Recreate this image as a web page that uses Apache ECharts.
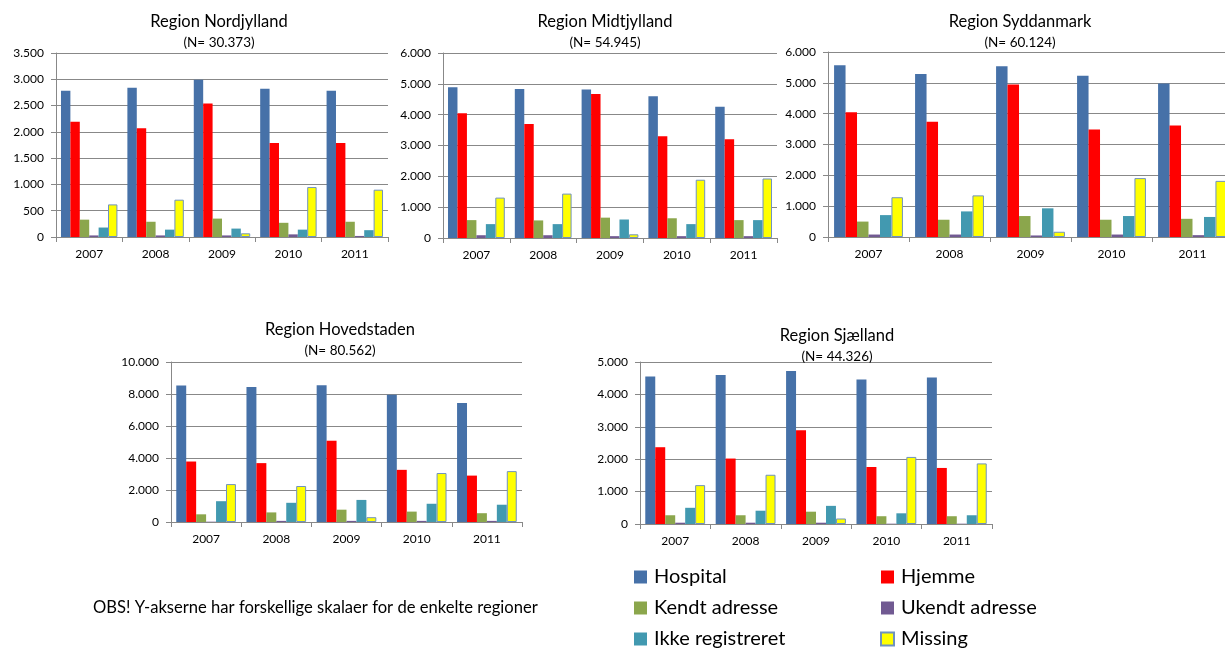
<!DOCTYPE html>
<html>
<head>
<meta charset="utf-8">
<script src="https://cdn.jsdelivr.net/npm/echarts@6/dist/echarts.min.js"></script>
<style>
html,body{margin:0;padding:0;background:#fff;overflow:hidden;}
#c{width:1240px;height:648px;}
</style>
</head>
<body>
<div id="c"></div>
<script>
const years = ['2007', '2008', '2009', '2010', '2011'];
const seriesNames = ['Hospital', 'Hjemme', 'Kendt adresse', 'Ukendt adresse', 'Ikke registreret', 'Missing'];
const seriesColors = ['#4671A8', '#FF0000', '#8BA64C', '#715A92', '#4299B0', '#FFFF00'];

const regionTitles = ['Region Nordjylland', 'Region Midtjylland', 'Region Syddanmark', 'Region Hovedstaden', 'Region Sjælland'];
const regionN = ['(N= 30.373)', '(N= 54.945)', '(N= 60.124)', '(N= 80.562)', '(N= 44.326)'];
const axisMax = [3500, 6000, 6000, 10000, 5000];
const axisInterval = [500, 1000, 1000, 2000, 1000];

// values per series (order = seriesNames), per year
const nordjylland = [
  [2780, 2840, 2990, 2820, 2780],
  [2190, 2070, 2540, 1790, 1790],
  [330, 290, 350, 270, 290],
  [30, 30, 30, 50, 20],
  [180, 140, 160, 140, 130],
  [620, 710, 70, 950, 900]
];
const midtjylland = [
  [4890, 4830, 4820, 4600, 4260],
  [4050, 3700, 4670, 3300, 3200],
  [580, 570, 660, 640, 580],
  [90, 90, 60, 60, 60],
  [450, 450, 600, 450, 580],
  [1310, 1440, 120, 1890, 1930]
];
const syddanmark = [
  [5570, 5290, 5540, 5230, 4980],
  [4050, 3740, 4950, 3490, 3620],
  [500, 560, 680, 560, 590],
  [80, 80, 50, 80, 60],
  [710, 830, 930, 680, 650],
  [1290, 1350, 170, 1910, 1820]
];
const hovedstaden = [
  [8530, 8430, 8540, 7960, 7430],
  [3780, 3680, 5080, 3260, 2900],
  [480, 600, 770, 650, 550],
  [20, 70, 70, 70, 70],
  [1300, 1200, 1380, 1140, 1080],
  [2370, 2250, 300, 3060, 3180]
];
const sjaelland = [
  [4550, 4600, 4720, 4460, 4520],
  [2370, 2020, 2890, 1760, 1730],
  [270, 270, 380, 240, 240],
  [40, 40, 40, 10, 10],
  [500, 410, 560, 330, 270],
  [1200, 1520, 170, 2070, 1870]
];
const regionData = [nordjylland, midtjylland, syddanmark, hovedstaden, sjaelland];
const noteText = 'OBS! Y-akserne har forskellige skalaer for de enkelte regioner';

// layout
const grids = [
  {left: 56, top: 53, width: 332, height: 184},
  {left: 443, top: 53, width: 334, height: 185},
  {left: 828, top: 52, width: 405, height: 185},
  {left: 171, top: 362, width: 351, height: 160},
  {left: 640, top: 362, width: 352, height: 162}
];
const titlePos = [
  {cx: 219, top: 13},
  {cx: 605, top: 13},
  {cx: 1020, top: 13},
  {cx: 340, top: 321},
  {cx: 837, top: 327}
];

const FONT = 'Lato, "Open Sans", sans-serif';
const fmt = v => String(v).replace(/\B(?=(\d{3})+(?!\d))/g, '.');
const lineGrey = '#888888';

const legendCommon = {
  orient: 'vertical',
  top: 567,
  height: 90,
  padding: 0,
  itemWidth: 13, itemHeight: 13, itemGap: 11,
  icon: 'rect',
  textStyle: {fontFamily: FONT, fontSize: 20, lineHeight: 18, color: '#000', padding: [0, 0, 0, 2]}
};

const option = {
  animation: false,
  backgroundColor: '#ffffff',
  textStyle: {fontFamily: FONT, color: '#000'},
  title: regionTitles.map((t, i) => ({
    text: t,
    subtext: regionN[i],
    left: titlePos[i].cx,
    top: titlePos[i].top,
    textAlign: 'center',
    padding: 0,
    itemGap: 6,
    textStyle: {fontFamily: FONT, fontSize: 16.5, fontWeight: 'normal', color: '#000'},
    subtextStyle: {fontFamily: FONT, fontSize: 13.5, color: '#000'}
  })),
  grid: grids.map(g => Object.assign({containLabel: false}, g)),
  xAxis: grids.map((g, i) => ({
    type: 'category',
    gridIndex: i,
    data: years,
    axisLine: {lineStyle: {color: lineGrey, width: 1}},
    axisTick: {show: true, length: 5, lineStyle: {color: lineGrey}},
    axisLabel: {fontFamily: FONT, fontSize: 12, color: '#000', margin: 11}
  })),
  yAxis: grids.map((g, i) => ({
    type: 'value',
    gridIndex: i,
    min: 0,
    max: axisMax[i],
    interval: axisInterval[i],
    axisLine: {show: true, lineStyle: {color: lineGrey, width: 1}},
    axisTick: {show: true, length: 5, lineStyle: {color: lineGrey}},
    splitLine: {show: true, lineStyle: {color: lineGrey, width: 1}},
    axisLabel: {fontFamily: FONT, fontSize: 12, color: '#000', margin: 12, formatter: fmt}
  })),
  legend: [
    Object.assign({}, legendCommon, {
      data: [seriesNames[0], seriesNames[2], seriesNames[4]],
      left: 634
    }),
    Object.assign({}, legendCommon, {
      data: [seriesNames[1], seriesNames[3], seriesNames[5]],
      left: 880
    })
  ],
  graphic: [{
    type: 'text',
    left: 93,
    top: 599,
    style: {text: noteText, font: '16.6px ' + FONT, fill: '#000'}
  }],
  series: []
};

regionData.forEach((region, i) => {
  region.forEach((vals, j) => {
    option.series.push({
      type: 'bar',
      name: seriesNames[j],
      xAxisIndex: i,
      yAxisIndex: i,
      data: vals,
      barGap: '0%',
      barCategoryGap: '15%',
      itemStyle: j === 5
        ? {color: seriesColors[j], borderColor: '#6F92C0', borderWidth: 1}
        : {color: seriesColors[j]}
    });
  });
});

const chart = echarts.init(document.getElementById('c'), null, {renderer: 'canvas'});
chart.setOption(option);
</script>
</body>
</html>
